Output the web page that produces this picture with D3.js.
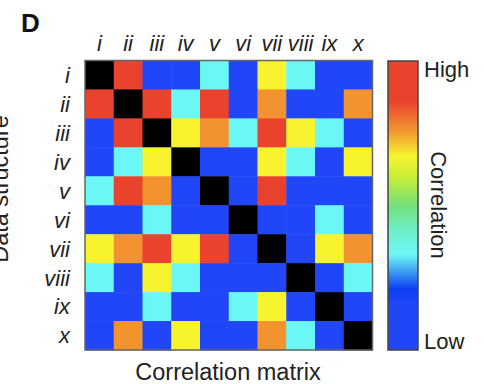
<!DOCTYPE html>
<html>
<head>
<meta charset="utf-8">
<script src="https://cdn.jsdelivr.net/npm/d3@7"></script>
<style>
  html, body { margin: 0; padding: 0; background: #fff; }
  svg { display: block; font-family: "Liberation Sans", Arial, sans-serif; }
</style>
</head>
<body>
<div id="chart"></div>
<script>
const categories = ["i", "ii", "iii", "iv", "v", "vi", "vii", "viii", "ix", "x"];

// correlation levels (null = diagonal, drawn black)
const B = 0.05, C = 0.33, Y = 0.67, O = 0.76, R = 0.9;
const corr = [
  [null, R, B, B, C, B, Y, C, B, B],
  [R, null, R, C, R, B, O, B, B, O],
  [B, R, null, Y, O, C, R, Y, C, B],
  [B, C, Y, null, B, B, Y, C, B, Y],
  [C, R, O, B, null, B, R, B, B, B],
  [B, B, C, B, B, null, B, B, C, B],
  [Y, O, R, Y, R, B, null, B, Y, O],
  [C, B, Y, C, B, B, B, null, B, C],
  [B, B, C, B, B, C, Y, B, null, B],
  [B, O, B, Y, B, B, O, C, B, null]
];

// jet-like colour bar stops
const stopPos = [0, 0.16, 0.21, 0.27, 0.33, 0.42, 0.5, 0.6, 0.67, 0.76, 0.86, 1];
const stopCol = ["#2046f7", "#2046f7", "#0a3df2", "#3b9cf0", "#6cf7f7", "#6eefc2",
                 "#74e07a", "#c9ee36", "#f7f42f", "#f2932f", "#e9432d", "#e9432d"];

const width = 484, height = 384;
const svg = d3.select("#chart").append("svg")
  .attr("width", width).attr("height", height);

const color = d3.scaleLinear().domain(stopPos).range(stopCol);

const x = d3.scaleBand().domain(categories).range([85, 372.5]);
const y = d3.scaleBand().domain(categories).range([60.5, 350]);

const cells = [];
corr.forEach((row, r) => row.forEach((v, c) => {
  cells.push({ row: categories[r], col: categories[c], value: v });
}));

const g = svg.append("g");
g.selectAll("rect.cell")
  .data(cells)
  .join("rect")
  .attr("class", "cell")
  .attr("x", d => x(d.col))
  .attr("y", d => y(d.row))
  .attr("width", x.bandwidth() + 0.5)
  .attr("height", y.bandwidth() + 0.5)
  .attr("fill", d => d.value === null ? "#000" : color(d.value));

// matrix frame
g.append("rect")
  .attr("x", x.range()[0]).attr("y", y.range()[0])
  .attr("width", x.range()[1] - x.range()[0])
  .attr("height", y.range()[1] - y.range()[0])
  .attr("fill", "none").attr("stroke", "#666").attr("stroke-width", 1.5);

// column labels
svg.append("g").selectAll("text")
  .data(categories)
  .join("text")
  .attr("x", d => x(d) + x.bandwidth() / 2)
  .attr("y", 51)
  .attr("text-anchor", "middle")
  .attr("font-style", "italic")
  .attr("font-size", 22)
  .attr("fill", "#222")
  .text(d => d);

// row labels
svg.append("g").selectAll("text")
  .data(categories)
  .join("text")
  .attr("x", 70)
  .attr("y", d => y(d) + y.bandwidth() / 2)
  .attr("dy", "0.36em")
  .attr("text-anchor", "end")
  .attr("font-style", "italic")
  .attr("font-size", 22)
  .attr("fill", "#222")
  .text(d => d);

// colour bar
const cb = d3.scaleLinear().domain([0, 1]).range([350, 61]);
const grad = svg.append("defs").append("linearGradient")
  .attr("id", "jet").attr("x1", 0).attr("y1", 1).attr("x2", 0).attr("y2", 0);
grad.selectAll("stop")
  .data(stopPos)
  .join("stop")
  .attr("offset", d => d)
  .attr("stop-color", (d, i) => stopCol[i]);

svg.append("rect")
  .attr("x", 388).attr("y", cb(1))
  .attr("width", 30).attr("height", cb(0) - cb(1))
  .attr("fill", "url(#jet)")
  .attr("stroke", "#444").attr("stroke-width", 1.5);

svg.append("text").attr("x", 424).attr("y", 77)
  .attr("font-size", 22).attr("fill", "#222").text("High");
svg.append("text").attr("x", 424).attr("y", 349)
  .attr("font-size", 22).attr("fill", "#222").text("Low");
svg.append("text")
  .attr("transform", "translate(431,205) rotate(90)")
  .attr("text-anchor", "middle")
  .attr("font-size", 22).attr("fill", "#222").text("Correlation");

// axis titles
svg.append("text").attr("x", 228).attr("y", 380)
  .attr("text-anchor", "middle")
  .attr("font-size", 23.5).attr("fill", "#222").text("Correlation matrix");
svg.append("text")
  .attr("transform", "translate(8,189) rotate(-90)")
  .attr("text-anchor", "middle")
  .attr("font-size", 23.5).attr("fill", "#222").text("Data structure");

// panel letter
svg.append("text").attr("x", 21).attr("y", 32)
  .attr("font-size", 26).attr("font-weight", "bold").attr("fill", "#111").text("D");
</script>
</body>
</html>
